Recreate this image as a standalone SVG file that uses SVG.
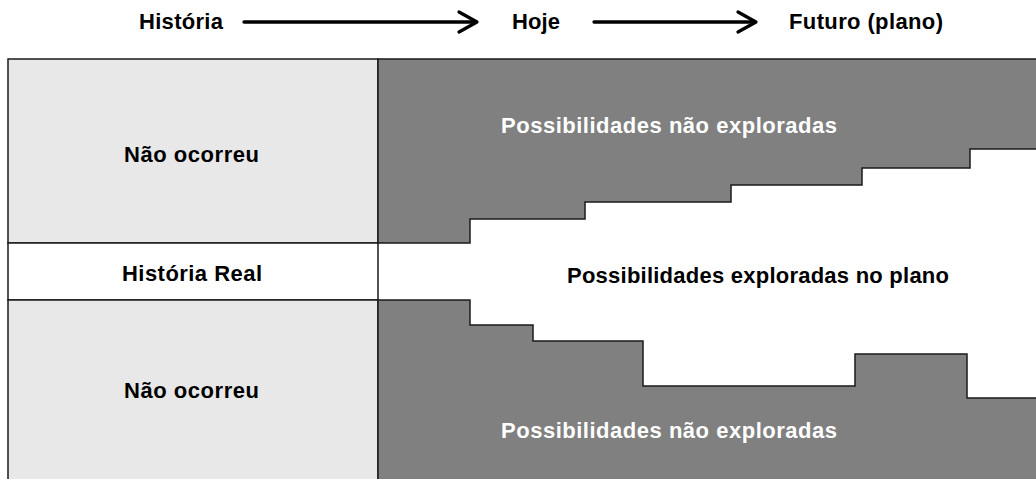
<svg xmlns="http://www.w3.org/2000/svg" width="1036" height="479" viewBox="0 0 1036 479">
<style>
  .t { font-family: "Liberation Sans", Arial, sans-serif; font-weight: bold; font-size: 22px; fill: #000; }
  .w { fill: #ffffff; }
  .box { stroke: #1a1a1a; stroke-width: 1.5; }
  .light { fill: #e8e8e8; }
  .dark { fill: #808080; }
  .arr { stroke: #000; stroke-width: 3.3; fill: none; stroke-linecap: round; stroke-linejoin: round; }
</style>
<rect x="0" y="0" width="1036" height="479" fill="#ffffff"/>
<g id="header">
  <text class="t" x="139" y="29" textLength="84" lengthAdjust="spacing">História</text>
  <text class="t" x="512" y="29" textLength="48" lengthAdjust="spacing">Hoje</text>
  <text class="t" x="789" y="29" textLength="154" lengthAdjust="spacing">Futuro (plano)</text>
</g>
<g id="connectors">
  <line class="arr" x1="244" y1="22" x2="476" y2="22"/>
  <polyline class="arr" points="459,12 477,22 459,32"/>
  <line class="arr" x1="594" y1="22" x2="755" y2="22"/>
  <polyline class="arr" points="738,12 756,22 738,32"/>
</g>
<g id="nao-ocorreu-top">
  <rect class="box light" x="8" y="59" width="370" height="184"/>
  <text class="t" x="124" y="162" textLength="135" lengthAdjust="spacing">Não ocorreu</text>
</g>
<g id="historia-real">
  <rect class="box" fill="#ffffff" x="8" y="243" width="370" height="57"/>
  <text class="t" x="122" y="281" textLength="140" lengthAdjust="spacing">História Real</text>
</g>
<g id="nao-ocorreu-bottom">
  <rect class="box light" x="8" y="300" width="370" height="185"/>
  <text class="t" x="124" y="398" textLength="135" lengthAdjust="spacing">Não ocorreu</text>
</g>
<g id="nao-exploradas-top">
  <path class="box dark" d="M378,59 L1040,59 L1040,149 L970,149 L970,168 L862,168 L862,185 L731,185 L731,202 L585,202 L585,219 L470,219 L470,243 L378,243 Z"/>
  <text class="t w" x="501" y="133" textLength="336" lengthAdjust="spacing">Possibilidades não exploradas</text>
</g>
<g id="exploradas-plano">
  <text class="t" x="567" y="283" textLength="382" lengthAdjust="spacing">Possibilidades exploradas no plano</text>
</g>
<g id="nao-exploradas-bottom">
  <path class="box dark" d="M378,300 L470,300 L470,325 L533,325 L533,341 L643,341 L643,386 L855,386 L855,354 L967,354 L967,398 L1040,398 L1040,485 L378,485 Z"/>
  <text class="t w" x="501" y="438" textLength="336" lengthAdjust="spacing">Possibilidades não exploradas</text>
</g>
</svg>
